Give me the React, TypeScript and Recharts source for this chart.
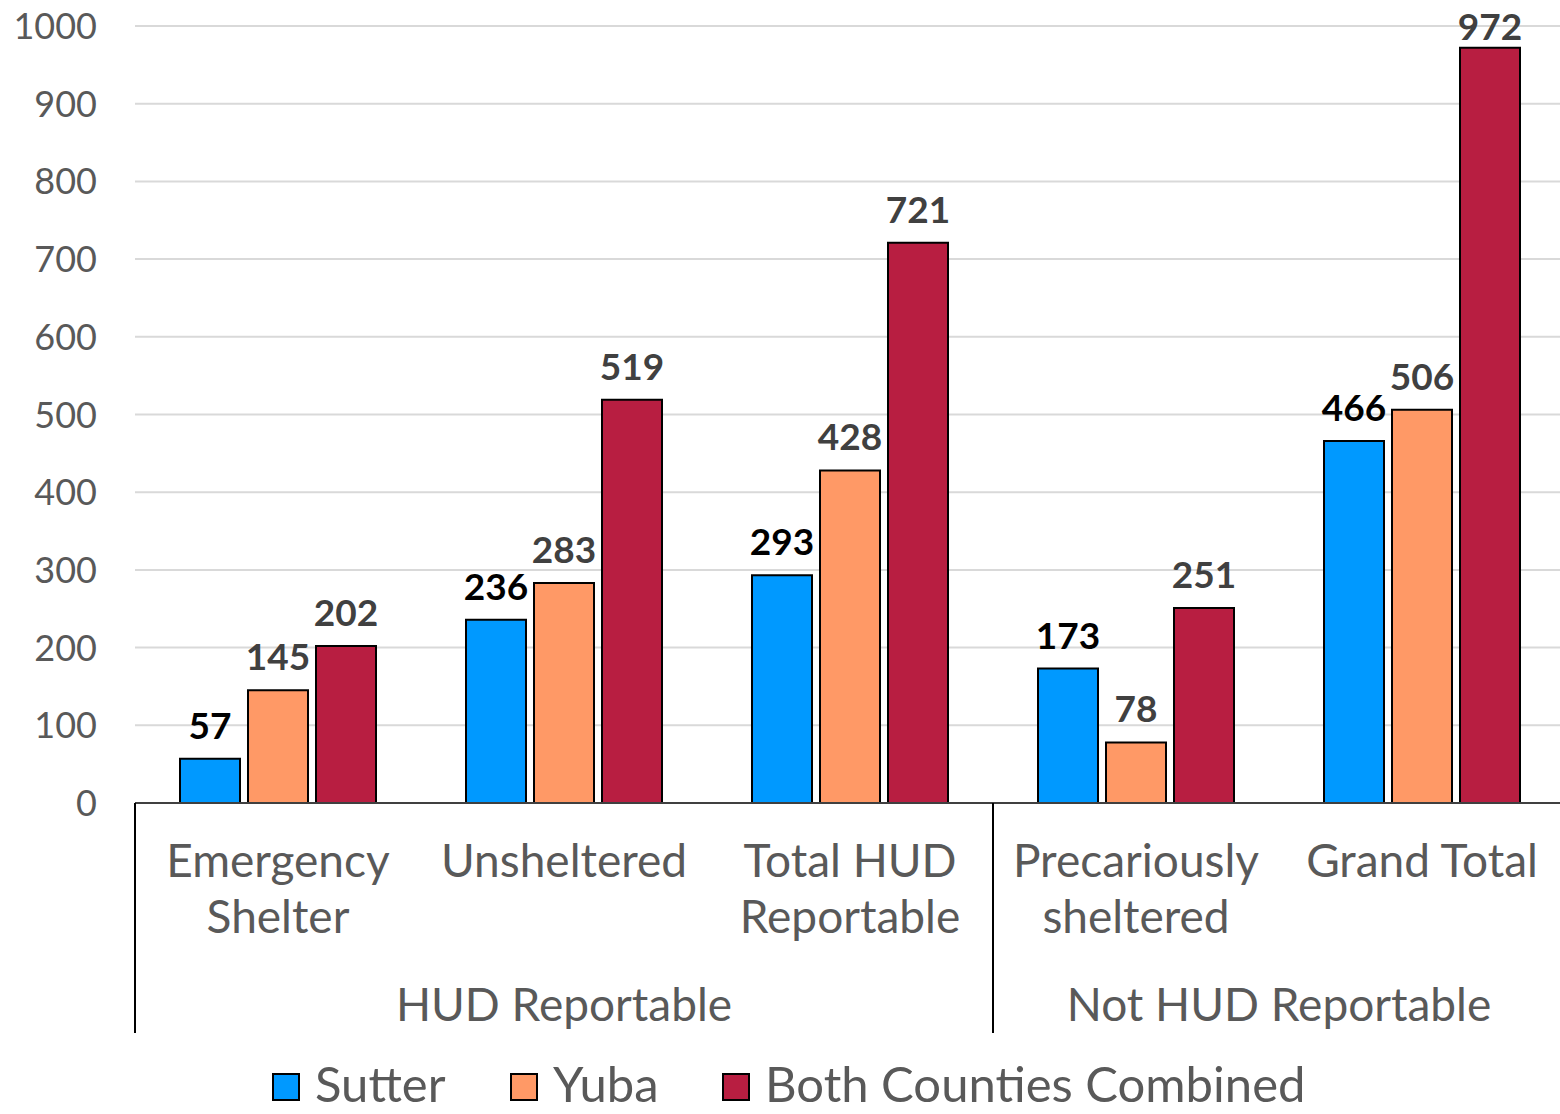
import React from "react";
import { BarChart, Bar, XAxis, YAxis, CartesianGrid, LabelList, Legend } from "recharts";

const categories = ["Emergency\nShelter", "Unsheltered", "Total HUD\nReportable", "Precariously\nsheltered", "Grand Total"];
const sutter = [57, 236, 293, 173, 466];
const yuba = [145, 283, 428, 78, 506];
const both = [202, 519, 721, 251, 972];
const groups = [
  { name: "HUD Reportable", start: 0, count: 3 },
  { name: "Not HUD Reportable", start: 3, count: 2 },
];
const yTicks = [0, 100, 200, 300, 400, 500, 600, 700, 800, 900, 1000];
const seriesNames = ["Sutter", "Yuba", "Both Counties Combined"];
const seriesColors = ["#0099FF", "#FF9966", "#B81E41"];

const data = categories.map((c, i) => ({ cat: c, sutter: sutter[i], yuba: yuba[i], both: both[i] }));

const FONT = "Lato, 'Open Sans', sans-serif";
const CHART_W = 1565;
const MARGIN_L = 135;
const BAND = (CHART_W - MARGIN_L) / categories.length;
const XAXIS_H = 230;

const CatTick = (props: any) => {
  const { x, y, payload, index } = props;
  const lines = String(payload.value).split("\n");
  const group = groups.find((g) => g.start === index);
  return (
    <g>
      <text x={x} y={y} textAnchor="middle" fill="#595959" fontFamily={FONT} fontSize={46}>
        {lines.map((l, i) => (
          <tspan key={i} x={x} dy={i === 0 ? 74 : 56}>{l}</tspan>
        ))}
      </text>
      {group && (
        <g>
          <line x1={x - BAND / 2} x2={x - BAND / 2} y1={y} y2={y + XAXIS_H} stroke="#000" strokeWidth={2} />
          <text x={x - BAND / 2 + (group.count * BAND) / 2} y={y + 218} textAnchor="middle" fill="#595959" fontFamily={FONT} fontSize={46}>
            {group.name}
          </text>
        </g>
      )}
    </g>
  );
};

const makeLabel = (color: string) => (props: any) => {
  const { x, y, width, value } = props;
  const by = Math.max(y - 20, 40);
  return (
    <text x={x + width / 2} y={by} textAnchor="middle" fill={color} fontFamily={FONT} fontWeight={700} fontSize={37}>
      {value}
    </text>
  );
};

const YTick = (props: any) => {
  const { x, y, payload } = props;
  return (
    <text x={x} y={y + 13} textAnchor="end" fill="#595959" fontFamily={FONT} fontSize={36}>
      {payload.value}
    </text>
  );
};

const LegendContent = () => (
  <div style={{ position: "relative", height: 60, width: 1560, fontFamily: FONT }}>
    {seriesNames.map((n, i) => {
      const lefts = [272, 510, 722];
      return (
        <div key={n} style={{ position: "absolute", left: lefts[i], top: 5, height: 49, display: "flex", alignItems: "center" }}>
          <div style={{ width: 24, height: 24, background: seriesColors[i], border: "2px solid #000", marginRight: 15, marginTop: 6 }} />
          <span style={{ fontSize: 49, color: "#595959", lineHeight: "49px", whiteSpace: "nowrap" }}>{n}</span>
        </div>
      );
    })}
  </div>
);

export default function App() {
  return (
    <div style={{ position: "absolute", left: 0, top: 0, width: 1560, height: 1114, overflow: "hidden", background: "#fff" }}>
      <BarChart
        width={CHART_W}
        height={1114}
        data={data}
        margin={{ top: 26, right: 0, left: 0, bottom: 21 }}
        barSize={60}
        barGap={8}
      >
        <CartesianGrid vertical={false} stroke="#d9d9d9" strokeWidth={2} />
        <YAxis
          width={MARGIN_L}
          domain={[0, 1000]}
          ticks={yTicks}
          axisLine={false}
          tickLine={false}
          tickSize={0}
          tickMargin={38}
          interval={0}
          tick={<YTick />}
        />
        <XAxis
          dataKey="cat"
          height={XAXIS_H}
          interval={0}
          tickLine={false}
          tickSize={0}
          tickMargin={0}
          axisLine={{ stroke: "#404040", strokeWidth: 2 }}
          tick={<CatTick />}
        />
        <Legend verticalAlign="bottom" content={<LegendContent />} wrapperStyle={{ left: 0, bottom: 0, width: 1560, height: 60 }} />
        <Bar dataKey="sutter" name={seriesNames[0]} fill={seriesColors[0]} stroke="#000" strokeWidth={2} isAnimationActive={false}>
          <LabelList dataKey="sutter" content={makeLabel("#000")} />
        </Bar>
        <Bar dataKey="yuba" name={seriesNames[1]} fill={seriesColors[1]} stroke="#000" strokeWidth={2} isAnimationActive={false}>
          <LabelList dataKey="yuba" content={makeLabel("#404040")} />
        </Bar>
        <Bar dataKey="both" name={seriesNames[2]} fill={seriesColors[2]} stroke="#000" strokeWidth={2} isAnimationActive={false}>
          <LabelList dataKey="both" content={makeLabel("#404040")} />
        </Bar>
      </BarChart>
    </div>
  );
}
